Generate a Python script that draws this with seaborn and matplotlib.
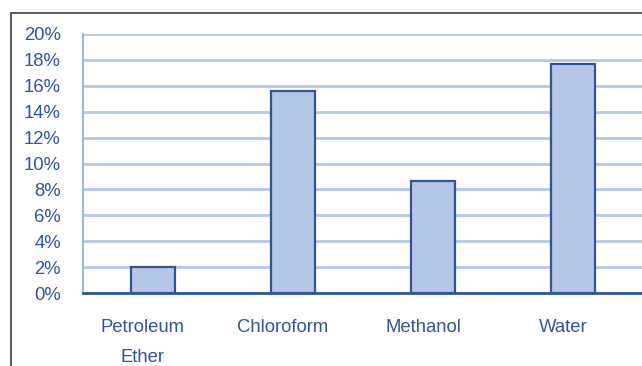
import pandas as pd
import seaborn as sns
import matplotlib.pyplot as plt
import matplotlib.transforms as mtransforms
from matplotlib.patches import Rectangle
from matplotlib.ticker import PercentFormatter, MultipleLocator

solvents = ["Petroleum\nEther", "Chloroform", "Methanol", "Water"]
yields = [0.020, 0.156, 0.0865, 0.177]

df = pd.DataFrame({"solvent": solvents, "yield": yields})

sns.set_style("white")
plt.rcParams["font.family"] = ["Liberation Sans", "DejaVu Sans"]

text_col = "#2F5597"
fill_col = "#B4C7E7"
edge_col = "#2F5597"

fig = plt.figure(figsize=(6.42, 3.66), dpi=100)
ax = fig.add_axes([83 / 642, 73 / 366, 560 / 642, 259 / 366])

sns.barplot(data=df, x="solvent", y="yield", color=fill_col, saturation=1,
            edgecolor=edge_col, linewidth=1.6, width=0.314, ax=ax, zorder=3)

ax.set_xlim(-0.5, 3.5)
ax.set_ylim(0, 0.20)
ax.yaxis.set_major_locator(MultipleLocator(0.02))
ax.yaxis.set_major_formatter(PercentFormatter(1.0, decimals=0))
ax.grid(axis="y", color=fill_col, linewidth=2, zorder=0)
ax.set_axisbelow(True)
ax.set_xlabel("")
ax.set_ylabel("")

for side in ["top", "right"]:
    ax.spines[side].set_visible(False)
ax.spines["left"].set_color("#8EA9DB")
ax.spines["left"].set_linewidth(1.2)
ax.spines["bottom"].set_color(edge_col)
ax.spines["bottom"].set_linewidth(2)

ax.tick_params(axis="both", length=0, labelsize=13.3, labelcolor=text_col)
ax.tick_params(axis="y", pad=16)
ax.tick_params(axis="x", pad=19)
shift = mtransforms.ScaledTranslation(-10 / 100, 0, fig.dpi_scale_trans)
for lab in ax.get_xticklabels():
    lab.set_linespacing(2.0)
    lab.set_verticalalignment("top")
    lab.set_transform(lab.get_transform() + shift)

# outer chart frame (right and bottom edges fall outside the image)
fig.patches.append(Rectangle((11 / 642, -0.1), 1.2, 1.1 - 13 / 366,
                             transform=fig.transFigure, fill=False,
                             edgecolor="#404040", linewidth=1.2))

fig.savefig("out.png", dpi=100)
